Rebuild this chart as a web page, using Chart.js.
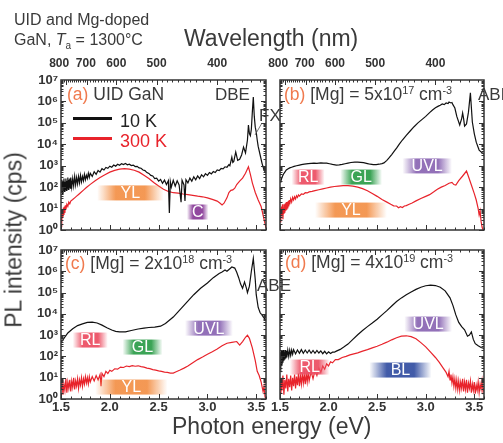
<!DOCTYPE html>
<html>
<head>
<meta charset="utf-8">
<script src="https://cdn.jsdelivr.net/npm/chart.js@4.4.1/dist/chart.umd.min.js"></script>
<style>
  body { margin: 0; background: #fff; }
  #wrap { position: relative; width: 503px; height: 443px; overflow: hidden;
          font-family: "Liberation Sans", Arial, sans-serif; color: #3a3a3a; }
  #wrap canvas { position: absolute; left: 0; top: 0; }
  .t { position: absolute; white-space: nowrap; line-height: 1; }
  .t sup { font-size: 0.62em; vertical-align: 0.55em; line-height: 0; }
  .lt { color: #f07a4e; }
  .leg { position: absolute; height: 3px; }
</style>
</head>
<body>
<div id="wrap">
  <canvas id="pa" width="503" height="443"></canvas>
  <canvas id="pb" width="503" height="443"></canvas>
  <canvas id="pc" width="503" height="443"></canvas>
  <canvas id="pd" width="503" height="443"></canvas>

  <div class="t" style="left:14px;top:12px;font-size:16px">UID and Mg-doped</div>
  <div class="t" style="left:14px;top:32px;font-size:16px">GaN, <i>T</i><sub style="font-size:10px">a</sub> = 1300°C</div>
  <div class="t" style="left:184px;top:27px;font-size:23px">Wavelength (nm)</div>
  <div class="t" style="left:172px;top:415px;font-size:23px">Photon energy (eV)</div>
  <div class="t" style="left:14px;top:240px;font-size:23px;transform:translate(-50%,-50%) rotate(-90deg)">PL intensity (cps)</div>

  <div class="t" style="left:67px;top:86px;font-size:17.5px"><span class="lt">(a)</span> UID GaN</div>
  <div class="leg" style="left:73px;top:117px;width:39px;background:#111"></div>
  <div class="leg" style="left:73px;top:137px;width:39px;background:#e8232b"></div>
  <div class="t" style="left:120px;top:112px;font-size:18px;color:#222">10 K</div>
  <div class="t" style="left:120px;top:132px;font-size:18px;color:#e8232b">300 K</div>
  <div class="t" style="left:215px;top:86px;font-size:17px">DBE</div>
  <div class="t" style="left:259px;top:107px;font-size:17px">FX</div>
  <svg style="position:absolute;left:0;top:0" width="503" height="443"><line x1="262" y1="123" x2="255" y2="135" stroke="#555" stroke-width="0.8"/></svg>

  <div class="t" style="left:284px;top:86px;font-size:17.5px"><span class="lt">(b)</span> [Mg] = 5x10<sup>17</sup> cm<sup>-3</sup></div>
  <div class="t" style="left:478px;top:86px;font-size:17px">ABE</div>
  <div class="t" style="left:65px;top:255px;font-size:17.5px"><span class="lt">(c)</span> [Mg] = 2x10<sup>18</sup> cm<sup>-3</sup></div>
  <div class="t" style="left:257px;top:277px;font-size:17px">ABE</div>
  <div class="t" style="left:285px;top:254px;font-size:17.5px"><span class="lt">(d)</span> [Mg] = 4x10<sup>19</sup> cm<sup>-3</sup></div>
</div>

<script>
// ticks
const energyTicks = [1.5, 2.0, 2.5, 3.0, 3.5];
const wavelengthTicks = [800, 700, 600, 500, 400];
const decadeTicks = [0, 1, 2, 3, 4, 5, 6, 7];

// spectra: [photon energy (eV), log10 PL intensity (cps)]
const a10K = [
  [1.50,2.35],[1.505,1.75],[1.51,2.2],[1.515,1.7],[1.52,2.3],[1.525,1.85],[1.53,2.4],[1.535,1.8],[1.54,2.25],[1.545,1.9],
  [1.55,2.4],[1.555,1.85],[1.56,2.3],[1.565,1.95],[1.57,2.45],[1.575,1.9],[1.58,2.35],[1.585,2.0],[1.59,2.4],[1.595,1.95],
  [1.60,2.45],[1.61,2.0],[1.62,2.4],[1.63,2.05],[1.64,2.5],[1.65,2.1],[1.66,2.45],[1.67,2.15],[1.68,2.5],[1.69,2.2],
  [1.70,2.55],[1.71,2.25],[1.72,2.5],[1.73,2.3],[1.74,2.6],[1.75,2.35],[1.76,2.55],[1.77,2.4],[1.78,2.65],[1.79,2.45],
  [1.80,2.65],[1.82,2.5],[1.84,2.72],[1.86,2.6],[1.88,2.78],[1.90,2.7],[1.92,2.86],[1.94,2.8],[1.96,2.92],[1.98,2.88],
  [2.00,2.98],[2.02,2.93],[2.04,3.03],[2.06,2.98],[2.08,3.07],[2.10,3.02],[2.12,3.09],[2.14,3.05],[2.16,3.1],[2.18,3.04],
  [2.20,3.07],[2.22,3.01],[2.24,3.03],[2.26,2.96],[2.28,2.97],[2.30,2.9],[2.32,2.88],[2.34,2.8],[2.36,2.77],[2.38,2.68],
  [2.40,2.64],[2.42,2.55],[2.44,2.52],[2.46,2.4],[2.48,2.42],[2.50,2.28],[2.52,2.36],[2.54,2.18],[2.56,2.33],[2.58,2.12],
  [2.60,2.3],[2.61,0.8],[2.62,2.25],[2.63,2.0],[2.65,2.32],[2.67,2.05],[2.69,2.3],[2.71,2.1],[2.73,1.3],[2.74,2.32],
  [2.76,2.1],[2.77,1.35],[2.78,2.35],[2.80,2.2],[2.82,2.42],[2.84,2.28],[2.86,2.48],[2.88,2.34],[2.90,2.52],[2.92,2.4],
  [2.94,2.58],[2.96,2.48],[2.98,2.63],[3.00,2.55],[3.02,2.68],[3.04,2.62],[3.06,2.73],[3.08,2.68],[3.10,2.8],[3.12,2.77],
  [3.14,2.87],[3.16,2.85],[3.18,2.95],[3.20,2.93],[3.22,3.05],[3.23,3.0],[3.25,3.4],[3.26,3.15],[3.27,3.2],[3.29,3.64],
  [3.31,3.25],[3.33,3.3],[3.35,3.5],[3.37,3.87],[3.39,3.6],[3.41,4.2],[3.42,4.9],[3.43,4.5],[3.44,4.4],[3.45,4.7],
  [3.46,5.5],[3.47,6.2],[3.48,5.3],[3.49,4.8],[3.50,4.57],[3.51,4.2],[3.52,3.9],[3.54,3.5],[3.56,3.1],[3.58,2.8],[3.60,2.65]
];
const a300K = [
  [1.50,0.5],[1.505,0.9],[1.51,0.35],[1.515,0.95],[1.52,0.6],[1.525,1.05],[1.53,0.7],[1.535,1.1],[1.54,0.8],[1.545,1.15],
  [1.55,0.95],[1.56,1.2],[1.57,1.1],[1.58,1.3],[1.59,1.22],[1.60,1.35],[1.62,1.42],[1.64,1.5],[1.66,1.58],[1.68,1.66],
  [1.70,1.74],[1.73,1.86],[1.76,1.98],[1.80,2.13],[1.85,2.3],[1.90,2.45],[1.95,2.58],[2.00,2.7],[2.05,2.78],[2.10,2.84],
  [2.15,2.86],[2.20,2.84],[2.25,2.79],[2.30,2.7],[2.35,2.56],[2.40,2.4],[2.45,2.22],[2.50,2.05],[2.55,1.9],[2.60,1.8],
  [2.65,1.74],[2.70,1.72],[2.75,1.68],[2.80,1.65],[2.85,1.62],[2.90,1.58],[2.95,1.55],[3.00,1.5],[3.05,1.43],[3.10,1.35],
  [3.13,1.25],[3.15,1.17],[3.17,1.25],[3.20,1.5],[3.22,1.75],[3.24,1.85],[3.26,1.87],[3.28,1.95],[3.30,2.12],[3.33,2.28],
  [3.36,2.42],[3.39,2.65],[3.42,2.95],[3.44,2.6],[3.46,2.2],[3.49,1.75],[3.52,1.4],[3.55,1.1],[3.57,0.7],[3.59,0.3],[3.60,0.1]
];
const b10K = [
  [1.50,2.25],[1.51,2.3],[1.52,2.45],[1.535,2.6],[1.55,2.7],[1.565,2.8],[1.58,2.85],[1.60,2.9],[1.62,2.93],[1.645,2.97],
  [1.67,3.0],[1.70,3.03],[1.72,3.05],[1.75,3.07],[1.79,3.1],[1.82,3.11],[1.85,3.12],[1.88,3.11],[1.92,3.13],[1.95,3.12],
  [1.98,3.12],[2.01,3.09],[2.04,3.06],[2.08,3.03],[2.11,3.04],[2.14,3.06],[2.17,3.09],[2.20,3.12],[2.23,3.15],[2.27,3.17],
  [2.30,3.17],[2.33,3.16],[2.36,3.14],[2.40,3.1],[2.43,3.07],[2.46,3.05],[2.49,3.05],[2.52,3.07],[2.55,3.1],[2.57,3.13],
  [2.60,3.25],[2.62,3.35],[2.65,3.52],[2.68,3.7],[2.70,3.82],[2.73,4.02],[2.76,4.2],[2.80,4.42],[2.84,4.62],[2.88,4.82],
  [2.92,5.0],[2.96,5.15],[3.00,5.3],[3.04,5.48],[3.07,5.6],[3.10,5.7],[3.13,5.78],[3.15,5.82],[3.17,5.88],[3.19,5.85],
  [3.21,5.93],[3.23,5.9],[3.24,5.97],[3.26,5.93],[3.27,5.95],[3.28,5.85],[3.30,5.69],[3.32,5.3],[3.35,4.9],[3.37,5.2],
  [3.38,5.46],[3.39,5.2],[3.40,4.85],[3.42,4.95],[3.44,5.5],[3.46,6.4],[3.48,5.04],[3.50,4.5],[3.52,4.1],[3.55,3.73],[3.58,3.6],[3.60,3.55]
];
const b300K = [
  [1.50,0.6],[1.505,1.0],[1.51,0.35],[1.515,1.1],[1.52,0.7],[1.525,1.2],[1.53,0.5],[1.535,1.05],[1.54,0.75],[1.545,1.2],
  [1.55,0.8],[1.555,1.25],[1.56,0.9],[1.565,1.3],[1.57,0.95],[1.575,1.3],[1.58,1.0],[1.585,1.35],[1.59,1.1],[1.595,1.4],
  [1.60,1.2],[1.61,1.45],[1.62,1.3],[1.63,1.52],[1.64,1.4],[1.65,1.55],[1.66,1.45],[1.67,1.6],[1.68,1.52],[1.69,1.64],
  [1.70,1.58],[1.72,1.68],[1.74,1.66],[1.76,1.74],[1.78,1.73],[1.80,1.78],[1.83,1.8],[1.86,1.84],[1.90,1.88],[1.94,1.92],
  [1.98,1.96],[2.02,2.0],[2.06,2.03],[2.10,2.05],[2.15,2.07],[2.20,2.07],[2.25,2.05],[2.30,2.0],[2.35,1.93],[2.40,1.83],
  [2.45,1.7],[2.50,1.57],[2.55,1.42],[2.60,1.3],[2.64,1.2],[2.67,1.13],[2.70,1.12],[2.72,1.04],[2.74,1.09],[2.76,1.05],
  [2.78,1.12],[2.80,1.14],[2.83,1.2],[2.86,1.26],[2.90,1.36],[2.95,1.47],[3.00,1.57],[3.04,1.65],[3.08,1.77],[3.12,1.9],
  [3.16,2.0],[3.20,2.08],[3.24,2.18],[3.27,2.22],[3.29,2.12],[3.31,2.1],[3.34,2.3],[3.38,2.52],[3.42,2.75],[3.44,2.5],
  [3.47,2.1],[3.50,1.7],[3.52,1.4],[3.54,1.0],[3.55,0.7],[3.56,0.9],[3.57,0.4],[3.58,0.14],[3.59,0.0]
];
const c10K = [
  [1.50,2.65],[1.53,2.85],[1.57,3.1],[1.62,3.3],[1.67,3.45],[1.72,3.53],[1.77,3.6],[1.82,3.61],[1.87,3.57],[1.92,3.47],
  [1.97,3.35],[2.02,3.24],[2.06,3.18],[2.10,3.15],[2.16,3.15],[2.22,3.22],[2.29,3.29],[2.35,3.33],[2.40,3.36],[2.46,3.38],
  [2.52,3.42],[2.57,3.55],[2.61,3.7],[2.65,3.85],[2.72,4.2],[2.79,4.55],[2.86,4.9],[2.93,5.2],[3.00,5.45],[3.06,5.7],
  [3.12,5.9],[3.15,5.97],[3.18,6.06],[3.20,6.0],[3.23,6.12],[3.25,6.2],[3.28,6.15],[3.30,5.95],[3.32,5.7],[3.34,5.4],
  [3.36,5.2],[3.38,5.5],[3.40,5.2],[3.41,5.0],[3.43,5.3],[3.45,6.0],[3.47,6.6],[3.49,5.6],[3.50,4.9],[3.52,4.3],
  [3.54,4.05],[3.56,3.94],[3.58,3.8],[3.60,3.7]
];
const c300K = [
  [1.50,0.5],[1.51,0.9],[1.52,0.2],[1.53,0.7],[1.54,0.4],[1.55,0.95],[1.56,0.3],[1.57,0.8],[1.58,0.5],[1.59,0.9],
  [1.60,0.35],[1.61,0.85],[1.62,0.55],[1.63,1.0],[1.64,0.45],[1.65,0.85],[1.66,0.6],[1.67,0.95],[1.68,0.5],[1.69,0.9],
  [1.70,0.65],[1.71,1.0],[1.72,0.6],[1.73,0.95],[1.74,0.7],[1.75,1.05],[1.76,0.75],[1.77,1.0],[1.78,0.7],[1.79,1.05],
  [1.80,0.8],[1.82,1.05],[1.84,0.85],[1.86,1.1],[1.88,0.9],[1.90,1.15],[1.91,0.6],[1.92,1.2],[1.94,1.05],[1.96,1.3],
  [1.98,1.2],[2.00,1.35],[2.02,1.3],[2.05,1.42],[2.08,1.4],[2.11,1.5],[2.14,1.48],[2.17,1.55],[2.20,1.52],[2.23,1.57],
  [2.26,1.54],[2.29,1.56],[2.32,1.52],[2.35,1.5],[2.38,1.45],[2.41,1.43],[2.44,1.38],[2.47,1.36],[2.50,1.32],[2.53,1.3],
  [2.56,1.26],[2.59,1.25],[2.62,1.22],[2.65,1.22],[2.68,1.28],[2.72,1.36],[2.76,1.45],[2.80,1.55],[2.85,1.7],[2.90,1.85],
  [2.95,1.97],[3.00,2.1],[3.05,2.22],[3.10,2.35],[3.15,2.5],[3.20,2.62],[3.25,2.66],[3.30,2.7],[3.33,2.53],[3.36,2.7],
  [3.39,2.9],[3.41,3.0],[3.43,2.85],[3.46,2.4],[3.49,1.8],[3.51,1.3],[3.53,1.1],[3.55,0.8],[3.57,0.35],[3.58,0.6],[3.59,0.1],[3.60,0.0]
];
const d10K = [
  [1.50,1.5],[1.505,2.2],[1.51,1.4],[1.515,2.3],[1.52,1.6],[1.525,2.25],[1.53,1.7],[1.535,2.3],[1.54,1.8],[1.545,2.2],
  [1.55,1.85],[1.555,2.3],[1.56,1.9],[1.565,2.25],[1.57,1.95],[1.58,2.3],[1.59,2.0],[1.60,2.3],[1.61,2.05],[1.62,2.3],
  [1.63,2.1],[1.64,2.32],[1.66,2.12],[1.68,2.3],[1.70,2.15],[1.72,2.32],[1.74,2.15],[1.76,2.3],[1.78,2.16],[1.80,2.3],
  [1.82,2.15],[1.84,2.28],[1.86,2.15],[1.88,2.28],[1.90,2.16],[1.92,2.26],[1.94,2.13],[1.96,2.24],[1.98,2.12],[2.00,2.22],
  [2.02,2.14],[2.04,2.2],[2.06,2.2],[2.08,2.25],[2.12,2.33],[2.16,2.45],[2.20,2.58],[2.25,2.8],[2.30,3.02],[2.35,3.22],
  [2.40,3.4],[2.45,3.57],[2.50,3.75],[2.55,3.95],[2.60,4.15],[2.65,4.37],[2.70,4.58],[2.75,4.75],[2.80,4.9],[2.85,5.03],
  [2.90,5.15],[2.95,5.25],[3.00,5.32],[3.05,5.35],[3.10,5.33],[3.15,5.25],[3.20,5.08],[3.25,4.75],[3.28,4.4],[3.31,3.95],
  [3.34,3.6],[3.37,3.4],[3.40,3.25],[3.43,2.95],[3.45,3.0],[3.47,3.15],[3.49,2.8],[3.51,2.6],[3.54,2.5],[3.57,2.42],[3.60,2.38]
];
const d300K = [
  [1.50,0.3],[1.51,1.0],[1.52,0.4],[1.53,1.1],[1.54,0.2],[1.55,0.9],[1.56,0.5],[1.57,1.15],[1.58,0.35],[1.59,0.95],
  [1.60,0.55],[1.61,1.1],[1.62,0.4],[1.63,1.0],[1.64,0.6],[1.65,1.15],[1.66,0.5],[1.67,1.05],[1.68,0.65],[1.69,1.2],
  [1.70,0.6],[1.71,1.1],[1.72,0.7],[1.73,1.2],[1.74,0.75],[1.75,1.15],[1.76,0.7],[1.77,1.2],[1.78,0.8],[1.79,1.25],
  [1.80,0.85],[1.82,1.3],[1.84,0.95],[1.86,1.35],[1.88,1.1],[1.90,1.45],[1.92,1.25],[1.94,1.55],[1.96,1.4],[1.98,1.65],
  [2.00,1.55],[2.02,1.75],[2.04,1.7],[2.07,1.85],[2.10,1.85],[2.14,1.95],[2.18,2.0],[2.22,2.07],[2.26,2.12],[2.30,2.17],
  [2.35,2.25],[2.40,2.32],[2.45,2.4],[2.50,2.48],[2.55,2.57],[2.60,2.67],[2.65,2.78],[2.70,2.88],[2.75,2.95],[2.80,2.97],
  [2.85,2.93],[2.90,2.83],[2.95,2.65],[3.00,2.45],[3.05,2.2],[3.10,1.95],[3.14,1.72],[3.18,1.45],[3.21,1.25],[3.23,1.05],
  [3.24,1.3],[3.25,0.9],[3.26,1.15],[3.27,0.75],[3.28,1.05],[3.29,0.6],[3.30,0.95],[3.31,0.5],[3.32,0.9],[3.33,0.45],
  [3.34,0.85],[3.35,0.4],[3.36,0.8],[3.37,0.5],[3.38,0.95],[3.39,0.35],[3.40,0.8],[3.41,0.45],[3.42,0.9],[3.43,0.3],
  [3.44,0.75],[3.45,0.5],[3.46,0.85],[3.47,0.3],[3.48,0.7],[3.49,0.4],[3.50,0.8],[3.51,0.25],[3.52,0.65],[3.53,0.4],
  [3.54,0.8],[3.55,0.3],[3.56,0.7],[3.57,0.45],[3.58,0.85],[3.59,0.35],[3.60,0.5]
];

// emission-band labels: energy span (eV) and height (log10 cps)
const bandsA = [
  { name: 'YL', from: 1.87, to: 2.55, at: 1.73, color: '#f3924a' },
  { name: 'C', from: 2.79, to: 3.01, at: 0.84, color: '#8a3d99' }
];
const bandsB = [
  { name: 'RL', from: 1.62, to: 1.96, at: 2.47, color: '#ec5064' },
  { name: 'GL', from: 2.12, to: 2.55, at: 2.47, color: '#2f9e4b' },
  { name: 'UVL', from: 2.76, to: 3.27, at: 2.99, color: '#8c68b4' },
  { name: 'YL', from: 1.86, to: 2.6, at: 0.93, color: '#f3924a' }
];
const bandsC = [
  { name: 'RL', from: 1.62, to: 1.98, at: 2.77, color: '#ec5064' },
  { name: 'GL', from: 2.13, to: 2.54, at: 2.44, color: '#2f9e4b' },
  { name: 'UVL', from: 2.77, to: 3.26, at: 3.33, color: '#8c68b4' },
  { name: 'YL', from: 1.85, to: 2.59, at: 0.56, color: '#f3924a' }
];
const bandsD = [
  { name: 'RL', from: 1.6, to: 2.01, at: 1.5, color: '#ec5064' },
  { name: 'UVL', from: 2.78, to: 3.27, at: 3.52, color: '#8c68b4' },
  { name: 'BL', from: 2.42, to: 3.06, at: 1.36, color: '#3651a3' }
];

const HC = 1239.84; // eV*nm
const SUP = ['⁰', '¹', '²', '³', '⁴', '⁵', '⁶', '⁷'];
const BLACK = '#111111', RED = '#e8232b';
const tickFont = { family: 'Liberation Sans', size: 13, weight: 'bold' };
const topFont = { family: 'Liberation Sans', size: 12, weight: 'bold' };
// crowded long-wavelength labels are nudged left, as in the original figure
const NUDGE = { 800: '\u00a0\u00a0\u00a0\u00a0', 700: '\u00a0' };

// frame, inward ticks and band labels
const decor = {
  id: 'decor',
  afterDatasetsDraw(chart, args, opts) {
    const { ctx, scales: { x, y } } = chart;
    ctx.save();
    opts.bands.forEach(b => {
      const x0 = x.getPixelForValue(b.from), x1 = x.getPixelForValue(b.to);
      const yc = y.getPixelForValue(Math.pow(10, b.at));
      const g = ctx.createLinearGradient(x0, 0, x1, 0);
      g.addColorStop(0, b.color + '00');
      g.addColorStop(0.28, b.color + 'f0');
      g.addColorStop(0.72, b.color + 'f0');
      g.addColorStop(1, b.color + '00');
      ctx.fillStyle = g;
      ctx.fillRect(x0, yc - 7.5, x1 - x0, 15);
      ctx.fillStyle = '#fff';
      ctx.font = '16px "Liberation Sans"';
      ctx.textAlign = 'center';
      ctx.textBaseline = 'middle';
      ctx.fillText(b.name, (x0 + x1) / 2, yc + 1);
    });
    ctx.restore();
  },
  afterDraw(chart) {
    const { ctx, chartArea: a, scales: { x, y } } = chart;
    ctx.save();
    ctx.strokeStyle = '#333';
    ctx.lineWidth = 1;
    ctx.beginPath();
    for (let d = 0; d < 7; d++) {
      for (let m = 1; m <= 9; m++) {
        const py = Math.round(y.getPixelForValue(m * Math.pow(10, d))) + 0.5;
        const len = m === 1 ? 5 : 2.5;
        ctx.moveTo(a.left, py); ctx.lineTo(a.left + len, py);
        ctx.moveTo(a.right, py); ctx.lineTo(a.right - len, py);
      }
    }
    for (let i = 15; i <= 36; i++) {
      const px = Math.round(x.getPixelForValue(i / 10)) + 0.5;
      ctx.moveTo(px, a.bottom); ctx.lineTo(px, a.bottom - (i % 5 === 0 ? 5 : 2.5));
    }
    for (let w = 350; w <= 820; w += 10) {
      const px = Math.round(x.getPixelForValue(HC / w)) + 0.5;
      ctx.moveTo(px, a.top); ctx.lineTo(px, a.top + (w % 100 === 0 ? 5 : 2.5));
    }
    ctx.stroke();
    ctx.lineWidth = 1.5;
    ctx.strokeRect(a.left, a.top, a.right - a.left, a.bottom - a.top);
    ctx.restore();
  }
};

const Y_W = 40, TOP_H = 26, BOT_H = 18;

function panel(id, box, showY, showTop, showBottom, cold, warm, bands) {
  const toXY = s => s.map(p => ({ x: p[0], y: Math.pow(10, p[1]) }));
  return new Chart(document.getElementById(id), {
    type: 'line',
    data: {
      datasets: [
        { data: toXY(cold), borderColor: BLACK, borderWidth: 1.2, pointRadius: 0, xAxisID: 'x', yAxisID: 'y' },
        { data: toXY(warm), borderColor: RED, borderWidth: 1.2, pointRadius: 0, xAxisID: 'x', yAxisID: 'y' }
      ]
    },
    options: {
      responsive: false,
      animation: false,
      devicePixelRatio: 1,
      layout: {
        padding: {
          left: box.left - (showY ? Y_W : 0),
          top: box.top - (showTop ? TOP_H : 0),
          right: 503 - box.right,
          bottom: 443 - box.bottom - (showBottom ? BOT_H : 0)
        }
      },
      plugins: { legend: { display: false }, tooltip: { enabled: false }, decor: { bands } },
      scales: {
        x: {
          type: 'linear', position: 'bottom', min: 1.5, max: 3.6,
          grid: { display: false, drawTicks: false }, border: { display: false },
          ticks: { display: showBottom, autoSkip: false, maxRotation: 0, padding: 1,
                   font: tickFont, color: '#333', callback: v => v.toFixed(1) },
          afterBuildTicks: s => { s.ticks = energyTicks.map(v => ({ value: v })); },
          afterFit: s => { s.height = showBottom ? BOT_H : 0; }
        },
        xTop: {
          type: 'linear', axis: 'x', position: 'top', min: 1.5, max: 3.6,
          grid: { display: false, drawTicks: false }, border: { display: false },
          ticks: { display: showTop, autoSkip: false, maxRotation: 0, padding: 9,
                   font: topFont, color: '#333',
                   callback: (v, i) => wavelengthTicks[i] + (NUDGE[wavelengthTicks[i]] || '') },
          afterBuildTicks: s => { s.ticks = wavelengthTicks.map(w => ({ value: HC / w })); },
          afterFit: s => { s.height = showTop ? TOP_H : 0; }
        },
        y: {
          type: 'logarithmic', position: 'left', min: 1, max: 1e7,
          grid: { display: false, drawTicks: false }, border: { display: false },
          ticks: { display: showY, autoSkip: false, padding: 3, font: tickFont, color: '#333',
                   callback: v => '10' + SUP[Math.round(Math.log10(v))] },
          afterBuildTicks: s => { s.ticks = decadeTicks.map(d => ({ value: Math.pow(10, d) })); },
          afterFit: s => { s.width = showY ? Y_W : 0; }
        }
      }
    },
    plugins: [decor]
  });
}

panel('pa', { left: 61, top: 80, right: 266, bottom: 230 }, true, true, false, a10K, a300K, bandsA);
panel('pb', { left: 280, top: 80, right: 484, bottom: 230 }, false, true, false, b10K, b300K, bandsB);
panel('pc', { left: 61, top: 250, right: 266, bottom: 399 }, true, false, true, c10K, c300K, bandsC);
panel('pd', { left: 280, top: 250, right: 484, bottom: 399 }, false, false, true, d10K, d300K, bandsD);
</script>
</body>
</html>
